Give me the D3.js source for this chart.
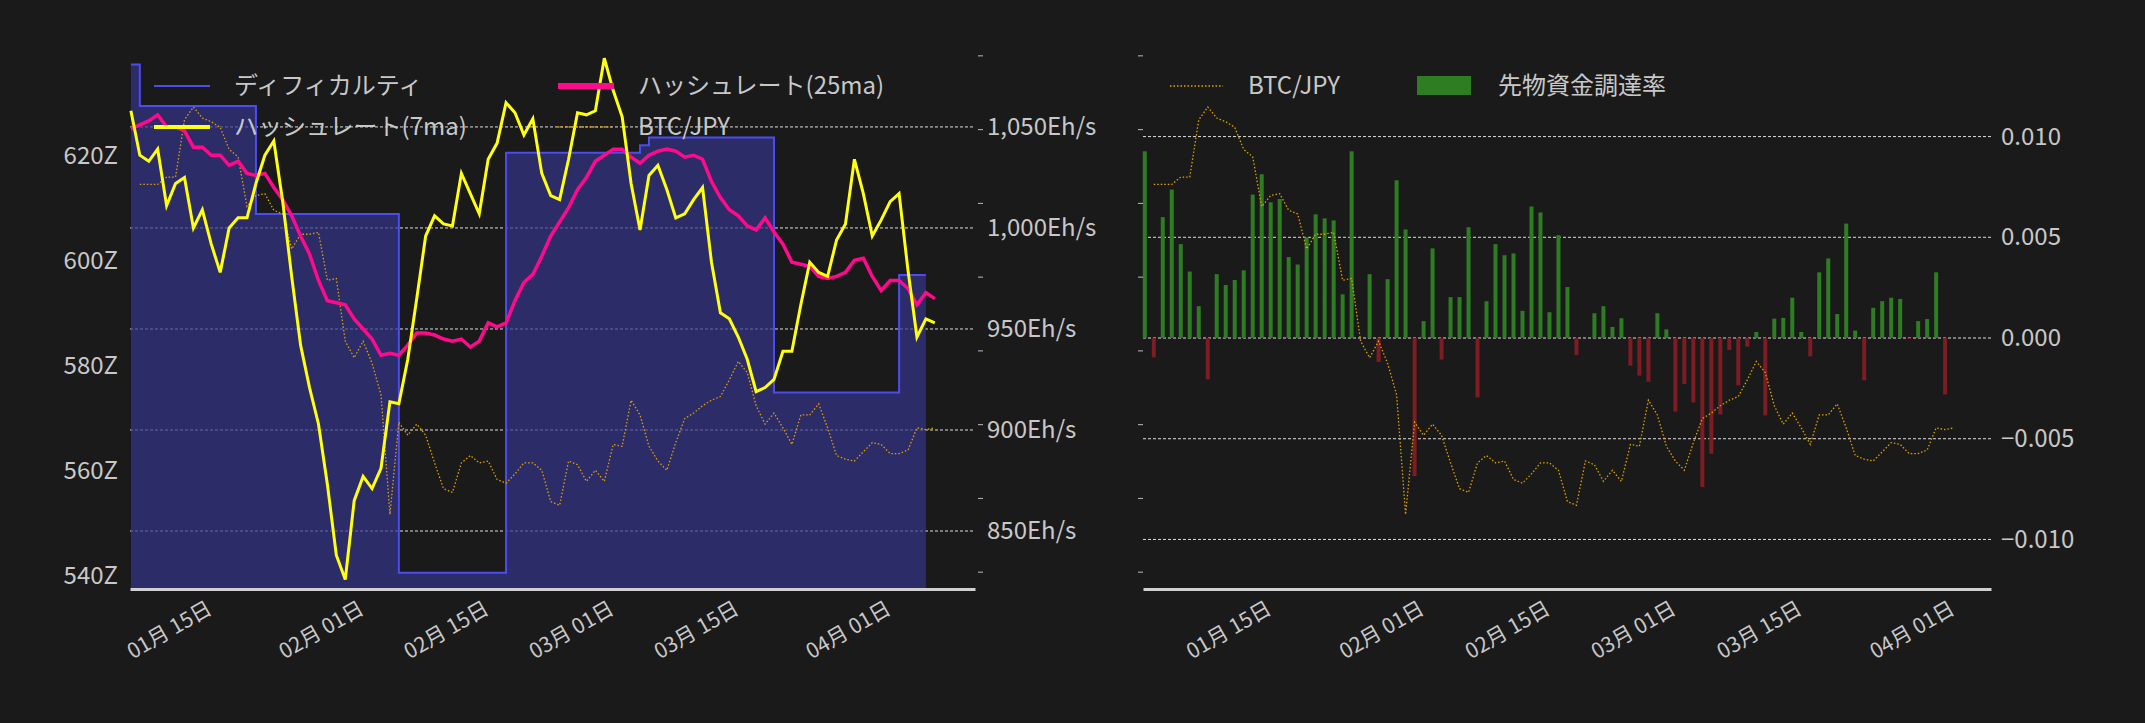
<!DOCTYPE html>
<html><head><meta charset="utf-8">
<script src="https://cdn.jsdelivr.net/npm/d3@7"></script>
<style>body{margin:0;background:#1a1a1a}svg{display:block}text{font-family:"Noto Sans CJK JP","Noto Sans",sans-serif;fill:#c8c8c8}</style>
</head><body>
<script>
// ---------- data ----------
const hashStart = "2022-01-07";
const btcStartLeft = "2022-01-08";
const btcStartRight = "2022-01-03";
const fundStart = "2022-01-02";
const diffSteps = [["2022-01-07",637.4],["2022-01-08",629.5],["2022-01-21",608.9],["2022-02-06",540.6],["2022-02-18",620.6],["2022-03-05",622.0],["2022-03-06",623.5],["2022-03-20",574.9],["2022-04-03",597.3],["2022-04-06",597.3]];
const hash7 = [1058,1036,1033,1039,1011,1022,1025,1000,1009,992,978,1000,1005,1005,1022,1036,1043,1013,976,942,921,903,873,838,826,865,877,871,881,914,913,935,965,996,1006,1002,1001,1027,1017,1007,1034,1042,1062,1057,1046,1054,1027,1016,1014,1034,1057,1056,1058,1084,1068,1055,1022,999,1026,1031,1019,1005,1007,1014,1020,983,958,955,946,935,919,921,925,939,939,962,983,978,976,994,1002,1034,1017,996,1004,1013,1017,979,946,955,953];
const hash25 = [1049,1051,1053,1056,1050,1050,1048,1040,1040,1036,1036,1031,1033,1027,1026,1027,1020,1014,1006,996,987,974,964,963,962,955,950,945,937,938,937,942,948,948,947,945,944,945,941,944,953,951,953,964,973,977,986,996,1003,1010,1019,1025,1033,1036,1039,1039,1035,1032,1036,1038,1039,1038,1035,1036,1034,1023,1015,1009,1006,1001,999,1005,998,992,983,982,981,976,975,976,978,984,985,976,969,974,974,970,962,968,965];
const btc = [600,600,600,604,604,635,642,636,634,631,619,615,588,594,595,586,584,565,573,573,574,548,549,515,506,515,503,486,421,471,464,470,464,449,435,433,449,453,449,450,440,438,443,449,449,445,428,426,450,448,439,445,439,459,458,483,475,458,450,445,460,473,476,480,483,485,494,504,498,480,470,476,468,459,475,475,481,468,453,451,450,455,460,459,454,454,456,468,467,468];
const funding = [0.00927,-0.00096,0.0060,0.00737,0.00466,0.0033,0.00158,-0.00205,0.00317,0.00263,0.00288,0.00336,0.00712,0.00813,0.00674,0.0069,0.00402,0.00365,0.005,0.00614,0.00594,0.00584,0.00217,0.00927,0,0.00317,-0.00119,0.00292,0.00783,0.00539,-0.00685,0.00084,0.00445,-0.00107,0.00203,0.00203,0.0055,-0.00295,0.00183,0.00466,0.00411,0.0042,0.00135,0.00653,0.00623,0.00128,0.00511,0.00253,-0.00084,0,0.00123,0.00158,0.00055,0.00098,-0.00137,-0.00187,-0.00217,0.00123,0.00043,-0.00365,-0.00228,-0.0032,-0.0074,-0.00575,-0.0038,-0.0006,-0.00235,-0.00043,0.0003,-0.00384,0.00096,0.001,0.002,0.0003,-0.00091,0.00326,0.00395,0.00119,0.00568,0.00037,-0.0021,0.0015,0.00183,0.002,0.00194,-0.00005,0.00084,0.00094,0.00326,-0.0028];
const diffTicks = [540,560,580,600,620];
const hashTicks = [850,900,950,1000,1050];
const fundTicks = [-0.01,-0.005,0,0.005,0.01];
const btcTicks = [390,430,470,510,550,590,630,670];
const dateTicks = ["2022-01-15","2022-02-01","2022-02-15","2022-03-01","2022-03-15","2022-04-01"];

// ---------- helpers ----------
const P = d3.timeParse("%Y-%m-%d");
const DAY = 864e5;
const series = (start, arr) => arr.map((v,i)=>({d:new Date(P(start).getTime()+i*DAY), v}));
const W=2145,H=723,plotTop=55,plotBottom=589;
const svg=d3.select("body").append("svg").attr("width",W).attr("height",H);
const fmtDate=d3.timeFormat("%m月 %d日");
const btcY=d3.scaleLinear().domain([380.6,670.2]).range([plotBottom,plotTop]);

function xAxis(g,x){
  const a=g.append("g").attr("transform",`translate(0,${plotBottom})`)
    .call(d3.axisBottom(x).tickValues(dateTicks.map(P)).tickFormat(fmtDate).tickSize(0));
  a.select(".domain").attr("stroke","#d0d0d0").attr("stroke-width",3);
  a.selectAll("text").attr("font-size",21).attr("fill","#c8c8c8").attr("text-anchor","end")
    .attr("transform","translate(0,18) rotate(-30)").attr("dy","0.35em").attr("dx","0.3em");
}
function btcTickMarks(g,xpos,dir){
  g.append("g").attr("transform",`translate(${xpos},0)`)
   .call((dir>0?d3.axisRight:d3.axisLeft)(btcY).tickValues(btcTicks).tickFormat("").tickSize(5))
   .call(s=>{s.select(".domain").remove();s.selectAll("line").attr("stroke","#bbb");});
}

// ---------- left chart ----------
{
  const L=130,R=975;
  const x=d3.scaleTime().domain([new Date(P("2022-01-07").getTime()-0.1*DAY),new Date(P("2022-04-11").getTime()+0.5*DAY)]).range([L,R]);
  const yD=d3.scaleLinear().domain([537.5,639.2]).range([plotBottom,plotTop]);
  const yH=d3.scaleLinear().domain([821.3,1085.6]).range([plotBottom,plotTop]);
  const g=svg.append("g");
  g.selectAll(".gr").data(hashTicks).join("line").attr("x1",L).attr("x2",R)
    .attr("y1",d=>yH(d)).attr("y2",d=>yH(d)).attr("stroke","#ddd").attr("stroke-width",1).attr("stroke-dasharray","3,2");
  const diff=diffSteps.map(([d,v])=>({d:P(d),v}));
  g.append("path").datum(diff).attr("fill","rgba(52,52,140,0.7)")
    .attr("d",d3.area().x(d=>x(d.d)).y0(plotBottom).y1(d=>yD(d.v)).curve(d3.curveStepAfter));
  g.append("path").datum(diff).attr("fill","none").attr("stroke","#4c4cf0").attr("stroke-width",2)
    .attr("d",d3.line().x(d=>x(d.d)).y(d=>yD(d.v)).curve(d3.curveStepAfter));
  g.append("path").datum(series(btcStartLeft,btc)).attr("fill","none").attr("stroke","#e0a000").attr("stroke-width",1.3).attr("stroke-dasharray","1.5,2")
    .attr("d",d3.line().x(d=>x(d.d)).y(d=>btcY(d.v)));
  g.append("path").datum(series(hashStart,hash25)).attr("fill","none").attr("stroke","#ff0a8c").attr("stroke-width",3.5)
    .attr("d",d3.line().x(d=>x(d.d)).y(d=>yH(d.v)));
  g.append("path").datum(series(hashStart,hash7)).attr("fill","none").attr("stroke","#ffff10").attr("stroke-width",3)
    .attr("d",d3.line().x(d=>x(d.d)).y(d=>yH(d.v)));
  g.append("g").attr("transform",`translate(${L},0)`).call(d3.axisLeft(yD).tickValues(diffTicks).tickFormat(d=>d+"Z").tickSize(0).tickPadding(12))
    .call(s=>{s.select(".domain").remove();s.selectAll("text").attr("font-size",24).attr("fill","#c8c8c8");});
  g.append("g").attr("transform",`translate(${R},0)`).call(d3.axisRight(yH).tickValues(hashTicks).tickFormat(d=>d3.format(",")(d)+"Eh/s").tickSize(0).tickPadding(12))
    .call(s=>{s.select(".domain").remove();s.selectAll("text").attr("font-size",24).attr("fill","#c8c8c8");});
  btcTickMarks(g,R+3,1);
  xAxis(g,x);
  const lg=g.append("g");
  const items=[["ディフィカルティ",154,86,"#4c4cf0",2,null],["ハッシュレート(25ma)",558,86,"#ff0a8c",6,null],["ハッシュレート(7ma)",154,127,"#ffff10",4,null],["BTC/JPY",558,127,"#e0a000",1.3,"1.5,2"]];
  items.forEach(([t,x0,y0,c,w,da])=>{
    lg.append("line").attr("x1",x0).attr("x2",x0+56).attr("y1",y0).attr("y2",y0).attr("stroke",c).attr("stroke-width",w).attr("stroke-dasharray",da);
    lg.append("text").attr("x",x0+80).attr("y",y0).attr("dy","0.35em").attr("font-size",24).text(t);
  });
}

// ---------- right chart ----------
{
  const L=1143,R=1991;
  const x=d3.scaleTime().domain([new Date(P("2022-01-02").getTime()-0.2*DAY),new Date(P("2022-04-06").getTime()+0.1*DAY)]).range([L,R]);
  const yF=d3.scaleLinear().domain([-0.01246,0.01405]).range([plotBottom,plotTop]);
  const g=svg.append("g");
  g.selectAll(".gr").data(fundTicks).join("line").attr("x1",L).attr("x2",R)
    .attr("y1",d=>yF(d)).attr("y2",d=>yF(d)).attr("stroke","#ddd").attr("stroke-width",1).attr("stroke-dasharray","3,2");
  const fs=series(fundStart,funding);
  g.selectAll(".bar").data(fs).join("rect")
    .attr("x",d=>x(d.d)-2).attr("width",4)
    .attr("y",d=>Math.min(yF(d.v),yF(0))).attr("height",d=>Math.abs(yF(d.v)-yF(0)))
    .attr("fill",d=>d.v>=0?"#2e7d23":"#7d1c22");
  g.append("path").datum(series(btcStartRight,btc)).attr("fill","none").attr("stroke","#e0a000").attr("stroke-width",1.3).attr("stroke-dasharray","1.5,2")
    .attr("d",d3.line().x(d=>x(d.d)).y(d=>btcY(d.v)));
  g.append("g").attr("transform",`translate(${R},0)`).call(d3.axisRight(yF).tickValues(fundTicks).tickFormat(d3.format(".3f")).tickSize(0).tickPadding(10))
    .call(s=>{s.select(".domain").remove();s.selectAll("text").attr("font-size",24).attr("fill","#c8c8c8");});
  btcTickMarks(g,L,-1);
  xAxis(g,x);
  const lg=g.append("g");
  lg.append("line").attr("x1",1170).attr("x2",1223).attr("y1",86).attr("y2",86).attr("stroke","#e0a000").attr("stroke-width",1.3).attr("stroke-dasharray","1.5,2");
  lg.append("text").attr("x",1248).attr("y",86).attr("dy","0.35em").attr("font-size",24).text("BTC/JPY");
  lg.append("rect").attr("x",1417).attr("y",76).attr("width",54).attr("height",19).attr("fill","#2e7d23");
  lg.append("text").attr("x",1498).attr("y",86).attr("dy","0.35em").attr("font-size",24).text("先物資金調達率");
}
</script>
</body></html>
